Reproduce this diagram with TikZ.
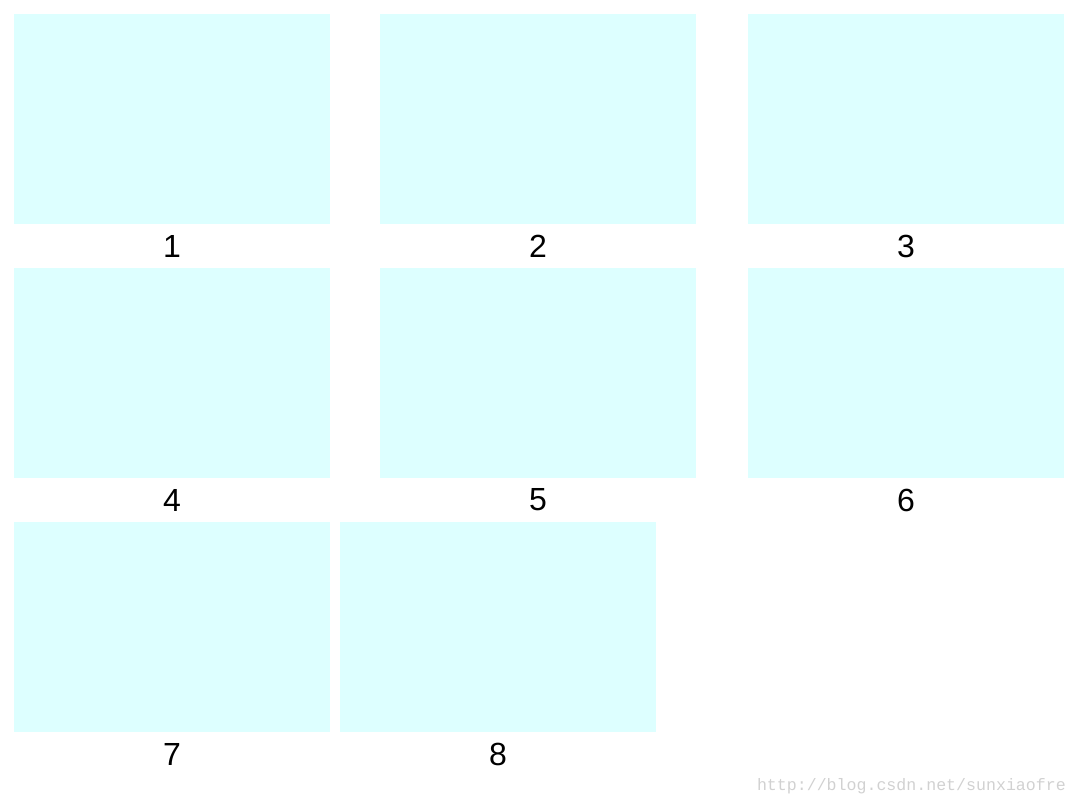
\documentclass[tikz,border=0pt]{standalone}
\usepackage{fontspec}
\setmainfont{Liberation Sans}
\newfontfamily\wmfont{Liberation Mono}
\begin{document}
\begin{tikzpicture}[
    x=1pt, y=-1pt,
    panel/.style={
        fill=cyanpale,
        draw=none,
        minimum width=316pt,
        minimum height=210pt,
        inner sep=0pt
    },
    num/.style={
        font=\fontsize{32}{38}\selectfont,
        text=black,
        inner sep=0pt
    },
    wmtext/.style={font=\wmfont\fontsize{16.6}{20}\selectfont, text=black!18, inner sep=0pt}
]
    \definecolor{cyanpale}{HTML}{DDFFFF}
    \useasboundingbox (0,0) rectangle (1078,806);

    \node[panel] (p1) at (172,119) {};
    \node[panel] (p2) at (538,119) {};
    \node[panel] (p3) at (906,119) {};
    \node[panel] (p4) at (172,373) {};
    \node[panel] (p5) at (538,373) {};
    \node[panel] (p6) at (906,373) {};
    \node[panel] (p7) at (172,627) {};
    \node[panel] (p8) at (498,627) {};

    \node[num] (n1) at (172,246) {1};
    \node[num] (n2) at (538,246) {2};
    \node[num] (n3) at (906,246) {3};
    \node[num] (n4) at (172,500) {4};
    \node[num] (n5) at (538,500) {5};
    \node[num] (n6) at (906,500) {6};
    \node[num] (n7) at (172,754) {7};
    \node[num] (n8) at (498,754) {8};

    % watermark
    \node[wmtext, anchor=east] (wm) at (1066,786) {http://blog.csdn.net/sunxiaofre};
\end{tikzpicture}
\end{document}
